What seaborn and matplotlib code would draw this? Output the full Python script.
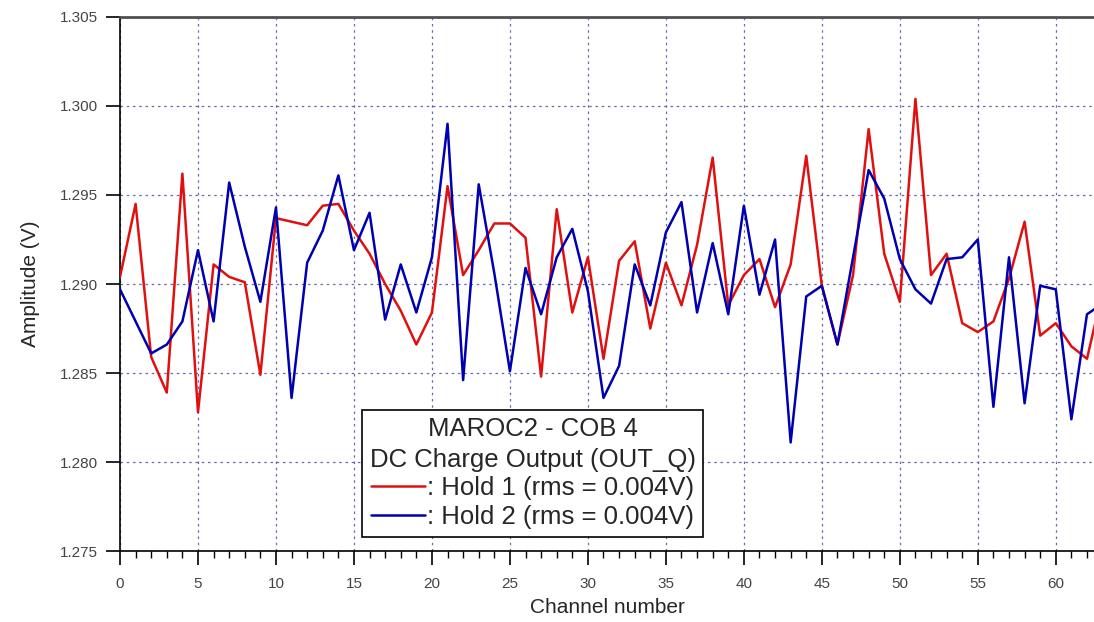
import numpy as np
import pandas as pd
import matplotlib
matplotlib.use("Agg")
import matplotlib.pyplot as plt
from matplotlib.ticker import MultipleLocator
from matplotlib.lines import Line2D
import seaborn as sns

channels = list(range(64))

hold1 = [1.2904, 1.2945, 1.2859, 1.2839, 1.2962, 1.2828, 1.2911, 1.2904, 1.2901, 1.2849,
         1.2937, 1.2935, 1.2933, 1.2944, 1.2945, 1.2930, 1.2917, 1.2900, 1.2885, 1.2866,
         1.2884, 1.2955, 1.2905, 1.2919, 1.2934, 1.2934, 1.2926, 1.2848, 1.2942, 1.2884,
         1.2915, 1.2858, 1.2913, 1.2924, 1.2875, 1.2912, 1.2888, 1.2922, 1.2971, 1.2888,
         1.2905, 1.2914, 1.2887, 1.2911, 1.2972, 1.2899, 1.2866, 1.2905, 1.2987, 1.2917,
         1.2890, 1.3004, 1.2905, 1.2917, 1.2878, 1.2873, 1.2879, 1.2903, 1.2935, 1.2871,
         1.2878, 1.2865, 1.2858, 1.2896]

hold2 = [1.2897, 1.2879, 1.2861, 1.2866, 1.2879, 1.2919, 1.2879, 1.2957, 1.2921, 1.2890,
         1.2943, 1.2836, 1.2912, 1.2930, 1.2961, 1.2919, 1.2940, 1.2880, 1.2911, 1.2884,
         1.2915, 1.2990, 1.2846, 1.2956, 1.2906, 1.2851, 1.2909, 1.2883, 1.2915, 1.2931,
         1.2896, 1.2836, 1.2854, 1.2911, 1.2888, 1.2929, 1.2946, 1.2884, 1.2923, 1.2883,
         1.2944, 1.2894, 1.2925, 1.2811, 1.2893, 1.2899, 1.2866, 1.2915, 1.2964, 1.2948,
         1.2914, 1.2897, 1.2889, 1.2914, 1.2915, 1.2925, 1.2831, 1.2915, 1.2833, 1.2899,
         1.2897, 1.2824, 1.2883, 1.2889]

series_labels = [": Hold 1 (rms = 0.004V)", ": Hold 2 (rms = 0.004V)"]
legend_title = "MAROC2 - COB 4\nDC Charge Output (OUT_Q)"
x_label = "Channel number"
y_label = "Amplitude (V)"

df = pd.DataFrame({
    "channel": channels * 2,
    "amplitude": hold1 + hold2,
    "series": [series_labels[0]] * len(hold1) + [series_labels[1]] * len(hold2),
})

sns.set_style("white")
plt.rcParams['font.family'] = ['Liberation Sans', 'DejaVu Sans']

fig = plt.figure(figsize=(10.94, 6.22), dpi=100)
ax = fig.add_axes([0.1097, 0.1141, 0.8903, 0.8586])

palette = {series_labels[0]: "#e01010", series_labels[1]: "#0000b0"}
sns.lineplot(data=df, x="channel", y="amplitude", hue="series", palette=palette,
             linewidth=1.8, ax=ax, legend=False, zorder=3)

ax.set_xlim(0, 62.45)
ax.set_ylim(1.275, 1.305)
ax.xaxis.set_major_locator(MultipleLocator(5))
ax.xaxis.set_minor_locator(MultipleLocator(1))
ax.yaxis.set_major_locator(MultipleLocator(0.005))
ax.yaxis.set_major_formatter(matplotlib.ticker.FormatStrFormatter("%.3f"))

ax.grid(True, which="major", color="#6a6aa8", linestyle=(0, (2, 3)), linewidth=0.9)
ax.set_axisbelow(True)

for side in ["left", "bottom"]:
    ax.spines[side].set_color("black")
    ax.spines[side].set_linewidth(1.2)
ax.spines["top"].set_color("#505050")
ax.spines["top"].set_linewidth(2.0)
ax.spines["right"].set_visible(False)

ax.tick_params(axis="both", which="major", direction="out", length=10, width=1.2,
               color="black", labelsize=11, labelcolor="#444444",
               bottom=True, left=True)
ax.tick_params(axis="x", which="major", pad=9)
ax.tick_params(axis="y", which="major", pad=6)
ax.tick_params(axis="x", which="minor", direction="out", length=5, width=1.0,
               color="black", bottom=True)

ax.set_xlabel(x_label, fontsize=15, labelpad=5)
ax.set_ylabel(y_label, fontsize=15, labelpad=14)

handles = [Line2D([], [], color=palette[s], linewidth=1.8) for s in series_labels]
leg = ax.legend(handles, series_labels, title=legend_title, loc="lower left",
                bbox_to_anchor=(0.2485, 0.026), fontsize=18.5, title_fontsize=18.5,
                frameon=True, fancybox=False, framealpha=1.0, edgecolor="black",
                handlelength=2.1, handletextpad=0.1, borderpad=0.3,
                labelspacing=0.2, borderaxespad=0)
leg.get_frame().set_linewidth(1.2)
leg.get_title().set_multialignment("center")
leg.get_title().set_linespacing(1.35)
leg._legend_box.sep = 3

fig.savefig("out.png", dpi=100)
